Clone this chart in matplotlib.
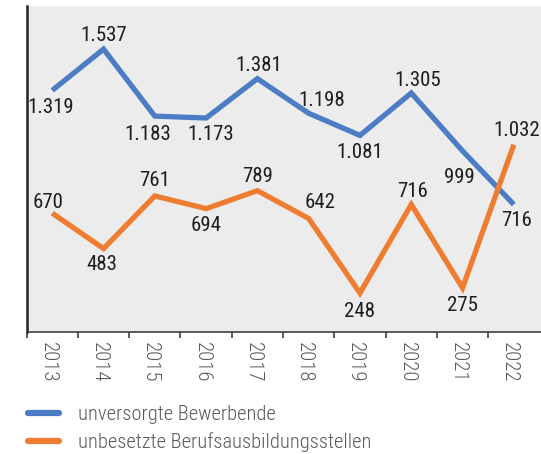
import numpy as np
import matplotlib.pyplot as plt
from matplotlib.lines import Line2D

years = ['2013', '2014', '2015', '2016', '2017', '2018', '2019', '2020', '2021', '2022']
unversorgt = [1319, 1537, 1183, 1173, 1381, 1198, 1081, 1305, 999, 716]
unbesetzt = [670, 483, 761, 694, 789, 642, 248, 716, 275, 1032]
series_names = ['unversorgte Bewerbende', 'unbesetzte Berufsausbildungsstellen']

BLUE = '#4c7cc3'
ORANGE = '#ee7d31'
FONT = ['Roboto Condensed', 'DejaVu Sans']

# label offsets in pixels (dx, dy) relative to the point
blue_off = [(-2, -17), (0, 14), (-7, -18), (5, -16), (1, 13), (13, 13), (0, -17), (6, 13), (-3, -27), (3, -16)]
orange_off = [(-4, 11), (-2, -16), (0, 15), (0, -17), (0, 14), (11, 16), (0, -18), (1, 13), (0, -18), (3, 14)]

def fmt(v):
    return f'{v:,}'.replace(',', '.')

plt.rcParams['font.family'] = FONT
plt.rcParams['font.weight'] = 300

fig = plt.figure(figsize=(5.41, 4.54), dpi=100)
ax = fig.add_axes([26.6 / 541, 1 - 332 / 454, 1 - 26.6 / 541, (332 - 6) / 454])
ax.set_facecolor('#ececec')

x = np.arange(len(years))
ax.plot(x, unversorgt, color=BLUE, lw=3.8, solid_joinstyle='miter', solid_capstyle='butt')
ax.plot(x, unbesetzt, color=ORANGE, lw=3.8, solid_joinstyle='miter', solid_capstyle='butt')

px = 0.72
for xi, v, (dx, dy) in zip(x, unversorgt, blue_off):
    ax.annotate(fmt(v), (xi, v), xytext=(dx * px, dy * px), textcoords='offset points',
                ha='center', va='center', fontsize=15, color='#1e1e1e', fontweight='normal')
for xi, v, (dx, dy) in zip(x, unbesetzt, orange_off):
    ax.annotate(fmt(v), (xi, v), xytext=(dx * px, dy * px), textcoords='offset points',
                ha='center', va='center', fontsize=15, color='#1e1e1e', fontweight='normal')

ax.set_xlim(-0.495, 9.53)
ax.set_ylim(42, 1765)
ax.set_yticks([])

ax.set_xticks(x - 0.5)
ax.set_xticklabels([])
ax.set_xticks(x - 0.08, minor=True)
ax.set_xticklabels(years, minor=True, rotation=270, fontsize=15, color='#595959')
ax.tick_params(axis='x', which='major', length=4, width=1.2, color='#404040', direction='out')
ax.tick_params(axis='x', which='minor', length=0, pad=7)

for s in ['top', 'right']:
    ax.spines[s].set_visible(False)
ax.spines['left'].set_linewidth(1.8)
ax.spines['left'].set_color('#222222')
ax.spines['bottom'].set_linewidth(1.2)
ax.spines['bottom'].set_color('#404040')

handles = [Line2D([], [], color=BLUE, lw=4.5, solid_capstyle='round'),
           Line2D([], [], color=ORANGE, lw=4.5, solid_capstyle='round')]
leg = fig.legend(handles, series_names, loc='center left', bbox_to_anchor=(28 / 541, 1 - 428.5 / 454),
                 frameon=False, fontsize=14.8, handlelength=1.5, handletextpad=0.95,
                 borderpad=0, borderaxespad=0, labelspacing=0.38, labelcolor='#595959')

fig.savefig('out.png', dpi=100)
